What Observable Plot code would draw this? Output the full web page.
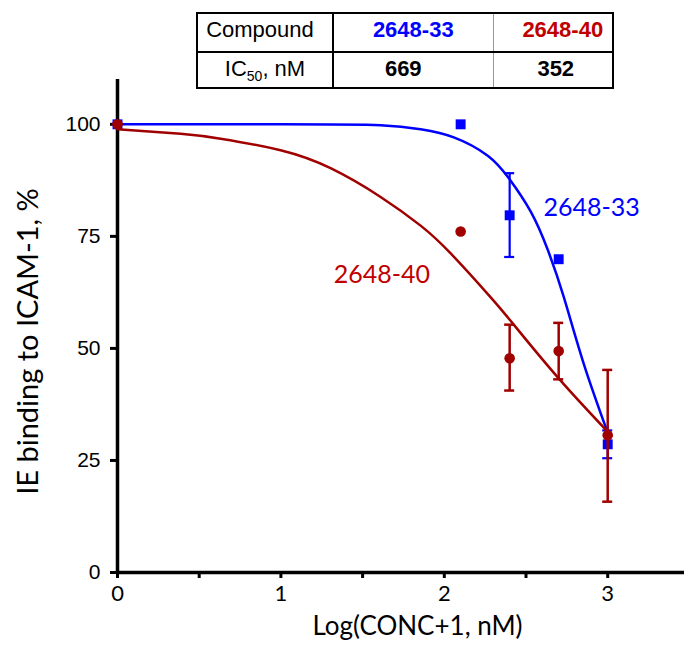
<!DOCTYPE html>
<html><head><meta charset="utf-8">
<script src="https://cdn.jsdelivr.net/npm/d3@7"></script>
<script src="https://cdn.jsdelivr.net/npm/@observablehq/plot@0.6"></script>
<style>
body{margin:0;background:#fff;}
#wrap{position:relative;width:684px;height:645px;overflow:hidden;}
#tbl{position:absolute;left:196px;top:12px;border-collapse:collapse;table-layout:fixed;
  font-family:"Liberation Sans",Arial,sans-serif;font-size:22px;border:2px solid #000;background:#fff;}
#tbl td{padding:0;text-align:center;vertical-align:middle;overflow:visible;white-space:nowrap;line-height:24px;}
#tbl tr.r1 td{height:32px;border-bottom:2px solid #000;padding-bottom:5px;}
#tbl tr.r2 td{height:31px;padding-bottom:3px;}
#tbl td.c1{border-right:2px solid #000;}
#tbl td.c2{border-right:1px solid #999;}
#tbl td b{font-weight:bold;}
</style></head>
<body><div id="wrap"></div>
<script>
// ---- data ----
const conc = [0, 2.1, 2.4, 2.7, 3.0];                 // Log(CONC+1, nM)
const blueMean = [100, 100, 79.7, 69.9, 28.6];        // 2648-33
const blueLo   = [null, null, 70.4, null, 25.5];
const blueHi   = [null, null, 89.1, null, 31.7];
const redMean  = [100, 76.1, 47.8, 49.4, 30.6];       // 2648-40
const redLo    = [null, null, 40.6, 43.1, 15.8];
const redHi    = [null, null, 55.3, 55.7, 45.2];

// fitted curves
const blueCurveX = [0, 1.0, 1.61, 1.855, 2.058, 2.266, 2.394, 2.529, 2.633, 2.731, 2.854, 3.0];
const blueCurveY = [100, 100, 99.8, 98.9, 97.1, 93.0, 88.0, 80.5, 72.0, 61.5, 46.5, 31.2];
const redCurveX  = [0, 0.386, 0.631, 0.998, 1.304, 1.61, 1.855, 2.039, 2.284, 2.425, 2.70, 3.0];
const redCurveY  = [98.9, 97.9, 96.8, 94.2, 90.2, 83.8, 77.4, 71.2, 61.4, 55.3, 43.3, 31.4];

const yTicks = [0, 25, 50, 75, 100];
const xTicks = [0, 0.5, 1, 1.5, 2, 2.5, 3];
const xTickLabels = ["0", "", "1", "", "2", "", "3"];

const seriesNames = ["2648-33", "2648-40"];
const seriesLabelX = [2.607, 1.323];
const seriesLabelY = [79.5, 64.5];
const ic50 = ["669", "352"];
const tableHead = "Compound";

const xTitle = "Log(CONC+1, nM)";
const yTitle = "IE binding to ICAM-1, %";

const blue = "#0000ff", red = "#a00000", redText = "#c00000";

// ---- build tables ----
const pts = conc.map((x, i) => ({x, b: blueMean[i], bl: blueLo[i], bh: blueHi[i], r: redMean[i], rl: redLo[i], rh: redHi[i]}));
const blueErr = pts.filter(d => d.bl != null);
const redErr = pts.filter(d => d.rl != null);
const blueCurve = blueCurveX.map((x, i) => ({x, y: blueCurveY[i]}));
const redCurve = redCurveX.map((x, i) => ({x, y: redCurveY[i]}));
const lab = i => [{x: seriesLabelX[i], y: seriesLabelY[i], t: seriesNames[i]}];

const chart = Plot.plot({
  width: 684, height: 645,
  marginLeft: 117, marginRight: 0, marginTop: 79, marginBottom: 73,
  style: {fontFamily: "Liberation Sans, Arial, sans-serif", background: "#fff", color: "#000"},
  x: {domain: [0, 3.47], label: null},
  y: {domain: [0, 110], label: null},
  marks: [
    Plot.axisY(yTicks, {tickSize: 7, tickPadding: 10, strokeWidth: 3, fontSize: 21, label: null, fill: "#000"}),
    Plot.axisX(xTicks, {tickSize: 6, tickPadding: 7, strokeWidth: 3, fontSize: 22, fontFamily: "Lato", label: null, fill: "#000",
      tickFormat: d => xTickLabels[xTicks.indexOf(d)]}),
    Plot.ruleY([0], {strokeWidth: 3.5}),
    Plot.ruleX([0], {strokeWidth: 3.5}),
    // 2648-33
    Plot.line(blueCurve, {x: "x", y: "y", stroke: blue, strokeWidth: 2.5, curve: "natural"}),
    Plot.ruleX(blueErr, {x: "x", y1: "bl", y2: "bh", stroke: blue, strokeWidth: 2.2}),
    Plot.ruleY(blueErr, {x1: "x", x2: "x", y: "bl", insetLeft: -5, insetRight: -5, stroke: blue, strokeWidth: 2.2}),
    Plot.ruleY(blueErr, {x1: "x", x2: "x", y: "bh", insetLeft: -5, insetRight: -5, stroke: blue, strokeWidth: 2.2}),
    Plot.dot(pts, {x: "x", y: "b", symbol: "square", r: 5.6, fill: blue}),
    // 2648-40
    Plot.line(redCurve, {x: "x", y: "y", stroke: red, strokeWidth: 2.5, curve: "natural"}),
    Plot.ruleX(redErr, {x: "x", y1: "rl", y2: "rh", stroke: red, strokeWidth: 2.5}),
    Plot.ruleY(redErr, {x1: "x", x2: "x", y: "rl", insetLeft: -5, insetRight: -5, stroke: red, strokeWidth: 2.5}),
    Plot.ruleY(redErr, {x1: "x", x2: "x", y: "rh", insetLeft: -5, insetRight: -5, stroke: red, strokeWidth: 2.5}),
    Plot.dot(pts, {x: "x", y: "r", r: 5.3, fill: red}),
    // series labels
    Plot.text(lab(0), {x: "x", y: "y", text: "t", fill: blue, textAnchor: "start", lineAnchor: "bottom", fontSize: 25, fontFamily: "Lato"}),
    Plot.text(lab(1), {x: "x", y: "y", text: "t", fill: redText, textAnchor: "start", lineAnchor: "bottom", fontSize: 25, fontFamily: "Lato"}),
    // axis titles
    Plot.text([yTitle], {frameAnchor: "left", textAnchor: "middle", rotate: -90, dx: -89, dy: 15.5, fontSize: 29, fontFamily: "Lato", fill: "#000"}),
    Plot.text([xTitle], {frameAnchor: "bottom", textAnchor: "middle", dx: 16.5, dy: 62, lineAnchor: "bottom", fontSize: 26, fontFamily: "Lato", fill: "#000"})
  ]
});

const wrap = document.getElementById("wrap");
wrap.appendChild(chart);

// ---- IC50 table ----
const tbl = document.createElement("table");
tbl.id = "tbl";
tbl.innerHTML =
  `<colgroup><col style="width:136px"><col style="width:160px"><col style="width:120px"></colgroup>` +
  `<tr class="r1"><td class="c1" style="padding-right:10px">${tableHead}</td>` +
  `<td class="c2"><b style="color:${blue}">${seriesNames[0]}</b></td>` +
  `<td style="padding-left:20px"><b style="color:${redText}">${seriesNames[1]}</b></td></tr>` +
  `<tr class="r2"><td class="c1">IC<sub style="font-size:14px;line-height:0">50</sub>, nM</td>` +
  `<td class="c2" style="padding-right:20px"><b>${ic50[0]}</b></td>` +
  `<td style="padding-left:6px"><b>${ic50[1]}</b></td></tr>`;
wrap.appendChild(tbl);
</script>
</body></html>
